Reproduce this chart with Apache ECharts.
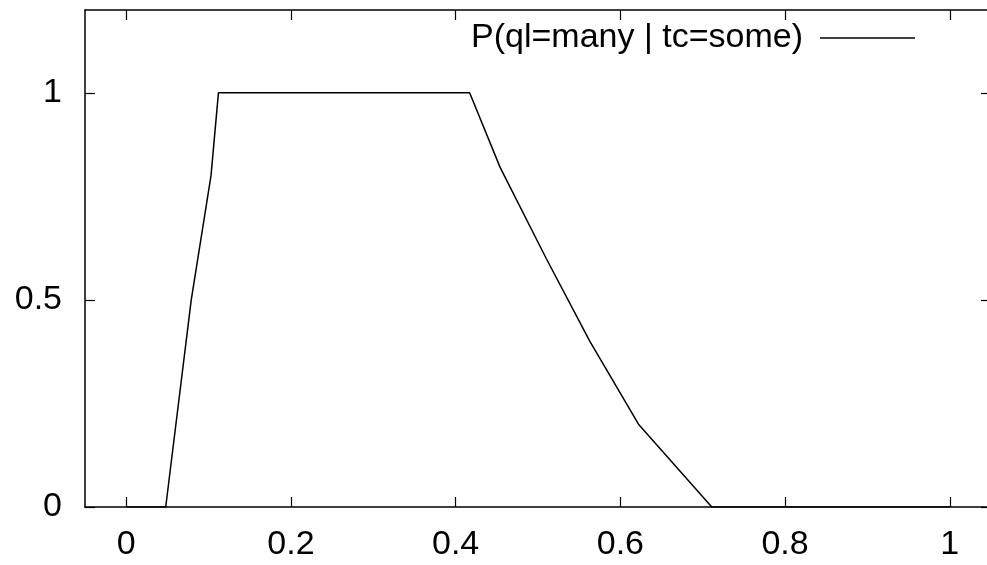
<!DOCTYPE html>
<html>
<head>
<meta charset="utf-8">
<script src="https://cdn.jsdelivr.net/npm/echarts@6/dist/echarts.min.js"></script>
<style>html,body{margin:0;padding:0;background:#fff;overflow:hidden}#c{width:995px;height:565px}</style>
</head>
<body>
<div id="c"></div>
<script>
const seriesName = 'P(ql=many | tc=some)';
const xValues = [0, 0.048, 0.079, 0.103, 0.112, 0.417, 0.454, 0.51, 0.563, 0.622, 0.711, 1.0];
const yValues = [0, 0, 0.5, 0.8, 1, 1, 0.82, 0.6, 0.4, 0.2, 0, 0];
const xTicks = [0, 0.2, 0.4, 0.6, 0.8, 1];
const yTicks = [0, 0.5, 1];

const font = 'Liberation Sans, Arial, sans-serif';
const chart = echarts.init(document.getElementById('c'), null, {renderer: 'canvas'});
const baseAxis = {
  axisLine: {show: true, onZero: false, lineStyle: {color: '#000', width: 1.5}},
  axisTick: {show: true, inside: true, length: 10, lineStyle: {color: '#000', width: 1.2}},
  splitLine: {show: false}
};
chart.setOption({
  animation: false,
  backgroundColor: '#fff',
  grid: {left: 85, top: 10, width: 906, height: 497, containLabel: false},
  legend: {
    right: 75, top: 16,
    align: 'right',
    icon: 'rect',
    itemWidth: 95, itemHeight: 1.5,
    itemStyle: {color: '#000'},
    textStyle: {fontFamily: font, fontSize: 34, color: '#000', padding: [0, 12, 0, 0]},
    data: [seriesName]
  },
  xAxis: [
    Object.assign({}, baseAxis, {
      type: 'value', min: -0.05, max: 1.05, position: 'bottom',
      axisTick: Object.assign({}, baseAxis.axisTick, {customValues: xTicks}),
      axisLabel: {customValues: xTicks, margin: 21, color: '#000', fontFamily: font, fontSize: 34,
        formatter: v => String(Math.round(v * 10) / 10)}
    }),
    Object.assign({}, baseAxis, {
      type: 'value', min: -0.05, max: 1.05, position: 'top',
      axisTick: Object.assign({}, baseAxis.axisTick, {customValues: xTicks}),
      axisLabel: {show: false}
    })
  ],
  yAxis: [
    Object.assign({}, baseAxis, {
      type: 'value', min: 0, max: 1.2, position: 'left',
      axisTick: Object.assign({}, baseAxis.axisTick, {customValues: yTicks}),
      axisLabel: {customValues: yTicks, margin: 23, color: '#000', fontFamily: font, fontSize: 34,
        formatter: v => String(Math.round(v * 10) / 10)}
    }),
    Object.assign({}, baseAxis, {
      type: 'value', min: 0, max: 1.2, position: 'right',
      axisTick: Object.assign({}, baseAxis.axisTick, {customValues: yTicks}),
      axisLabel: {show: false}
    })
  ],
  series: [{
    name: seriesName,
    type: 'line',
    xAxisIndex: 0, yAxisIndex: 0,
    symbol: 'none',
    lineStyle: {color: '#000', width: 1.5},
    itemStyle: {color: '#000'},
    data: xValues.map((x, i) => [x, yValues[i]])
  }]
});
</script>
</body>
</html>
